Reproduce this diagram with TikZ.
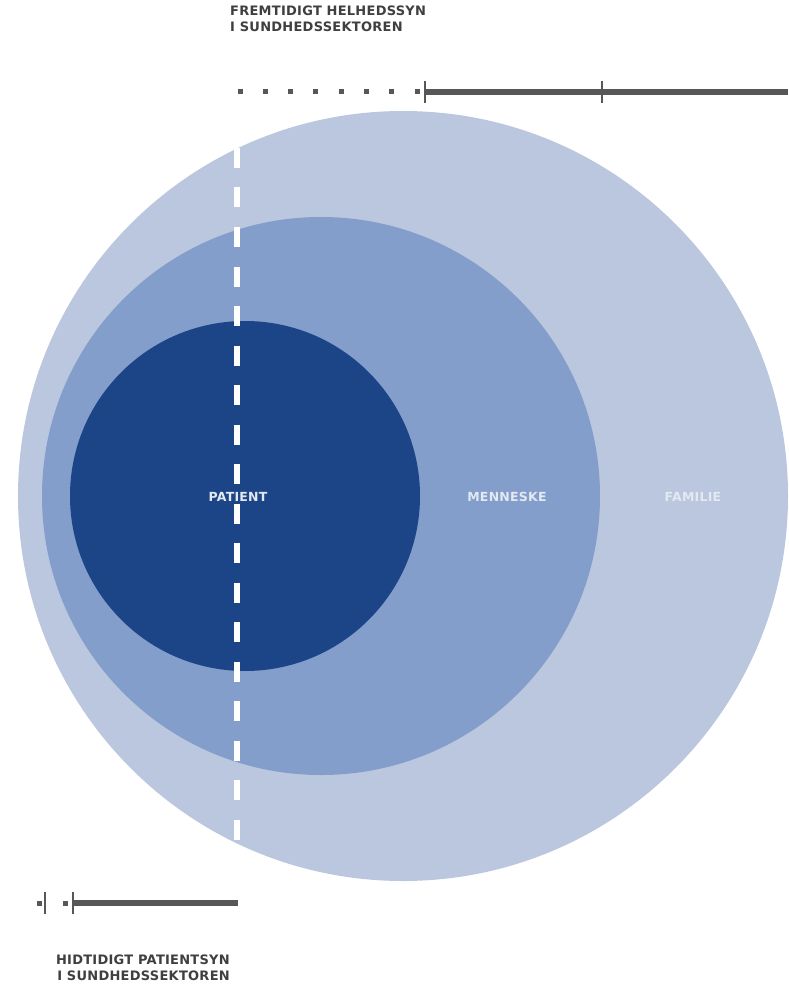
\documentclass[tikz,border=0pt]{standalone}
\usepackage{fontspec}
\newfontfamily\headfont[LetterSpace=2]{DejaVu Sans Bold}
\usetikzlibrary{positioning}
\definecolor{familieblue}{HTML}{BAC7DE}
\definecolor{menneskeblue}{HTML}{839ECB}
\definecolor{patientblue}{HTML}{1C4587}
\definecolor{scalegray}{HTML}{575757}
\definecolor{captiongray}{HTML}{3F3F3F}
\definecolor{taglight}{HTML}{E3E8F2}

\begin{document}
\begin{tikzpicture}[
    x=1pt, y=-1pt,
    ring/.style={circle, inner sep=0pt, draw=none},
    tag/.style={font=\headfont\fontsize{12.5}{15}\selectfont, text=taglight, inner sep=0pt},
    caption/.style={font=\headfont\fontsize{13}{16}\selectfont, text=captiongray, inner sep=0pt},
    ruler/.style={draw=scalegray, line width=6pt},
    tickmark/.style={draw=scalegray, line width=1.6pt},
    dot/.style={fill=scalegray, minimum size=5pt, inner sep=0pt}
]
    \useasboundingbox (0,0) rectangle (788,984);

    % circles
    \node[ring, fill=familieblue, minimum size=770pt] (familie) at (403,496) {};
    \node[ring, fill=menneskeblue, minimum size=558pt] (menneske) at (321,496) {};
    \node[ring, fill=patientblue, minimum size=350pt] (patient) at (245,496) {};

    % dividing line
    \coordinate (cut top) at (237,148);
    \coordinate (cut bot) at (237,842);
    \draw[white, line width=6.5pt, dash pattern=on 20pt off 19.5pt] (cut top) -- (cut bot);

    \node[tag] (patient label) at (238,497) {PATIENT};
    \node[tag] (menneske label) at (507,497) {MENNESKE};
    \node[tag] (familie label) at (693,497) {FAMILIE};

    % top scale
    \foreach \i in {0,...,7}
        \node[dot] (top dot \i) at (240+25.3*\i, 92) {};
    \coordinate (top a) at (425,92);
    \coordinate (top b) at (602,92);
    \coordinate (top end) at (788,92);
    \draw[ruler] (top a) -- (top end);
    \draw[tickmark] ([yshift=11pt]top a) -- ([yshift=-11pt]top a);
    \draw[tickmark] ([yshift=11pt]top b) -- ([yshift=-11pt]top b);

    % bottom scale
    \node[dot] (low dot a) at (39,903) {};
    \node[dot] (low dot b) at (65,903) {};
    \coordinate (low a) at (45,903);
    \coordinate (low b) at (73,903);
    \coordinate (low end) at (238,903);
    \draw[ruler] (low b) -- (low end);
    \draw[tickmark] ([yshift=11pt]low a) -- ([yshift=-11pt]low a);
    \draw[tickmark] ([yshift=11pt]low b) -- ([yshift=-11pt]low b);

    % captions
    \node[caption, align=left, anchor=base west] (future) at (230,32)
        {FREMTIDIGT HELHEDSSYN\\I SUNDHEDSSEKTOREN};
    \node[caption, align=right, anchor=base east] (past) at (230,980)
        {HIDTIDIGT PATIENTSYN\\I SUNDHEDSSEKTOREN};
\end{tikzpicture}
\end{document}
